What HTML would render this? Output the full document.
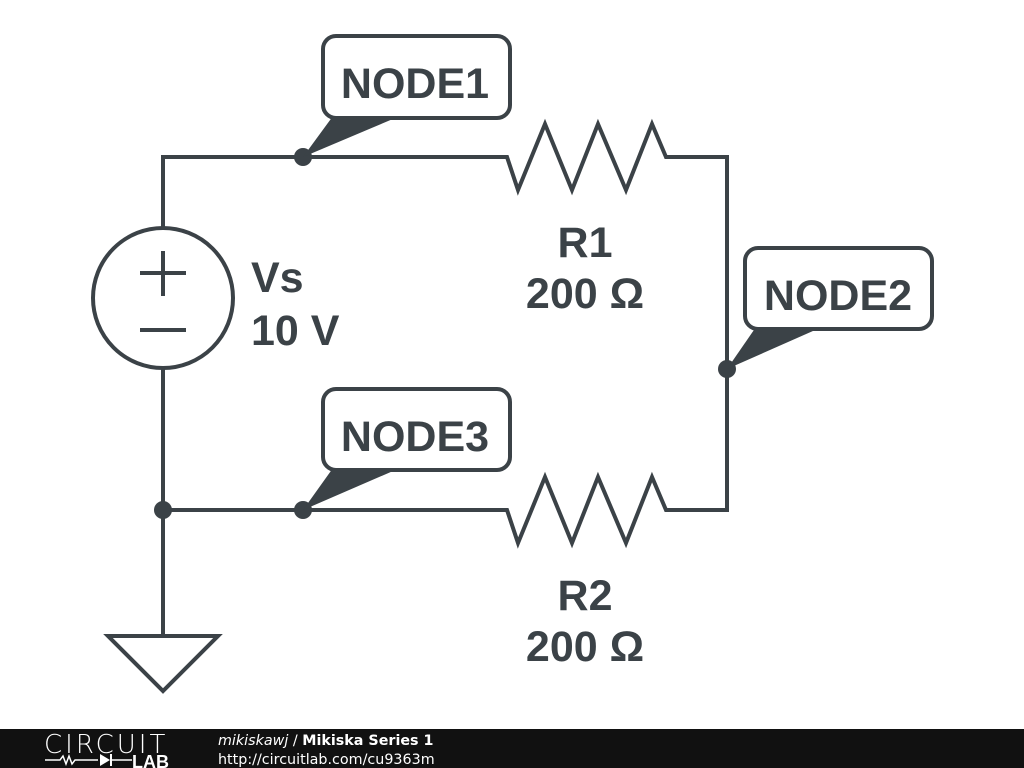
<!DOCTYPE html>
<html><head><meta charset="utf-8"><style>
html,body{margin:0;padding:0;background:#fff;}
svg{display:block}
text{font-family:"Liberation Sans",sans-serif;}
</style></head><body>
<svg width="1024" height="768" viewBox="0 0 1024 768" xmlns="http://www.w3.org/2000/svg">
<g stroke="#3b4247" stroke-width="4" fill="none" stroke-linejoin="miter">
<polyline points="163,228 163,157 507,157 518,190 545,124 572,190 598,124 626,190 652,124 666,157 727,157 727,510 666,510 652,477 626,543 598,477 572,543 545,477 518,543 507,510 163,510"/>
<line x1="163" y1="368" x2="163" y2="636"/>
<circle cx="163" cy="298" r="70"/>
<line x1="140" y1="273" x2="186" y2="273"/>
<line x1="163" y1="251" x2="163" y2="296"/>
<line x1="140" y1="330" x2="186" y2="330"/>
<polygon points="108,636 218,636 163,691"/>
<rect x="323" y="36" width="187" height="82" rx="13"/>
<rect x="745" y="248" width="187" height="81" rx="13"/>
<rect x="323" y="389" width="187" height="81" rx="13"/>
</g>
<g fill="#3b4247">
<circle cx="303" cy="157" r="9"/>
<circle cx="727" cy="369" r="9"/>
<circle cx="303" cy="510" r="9"/>
<circle cx="163" cy="510" r="9"/>
<polygon points="333,116 400,116 303,157"/>
<polygon points="756,327 822,327 727,369"/>
<polygon points="333,468 400,468 303,510"/>
<g font-weight="bold" font-size="43">
<text x="415" y="98" text-anchor="middle">NODE1</text>
<text x="838" y="310" text-anchor="middle">NODE2</text>
<text x="415" y="451" text-anchor="middle">NODE3</text>
<text x="251" y="292">Vs</text>
<text x="251" y="345">10 V</text>
<text x="585" y="257" text-anchor="middle">R1</text>
<text x="585" y="308" text-anchor="middle">200 Ω</text>
<text x="585" y="610" text-anchor="middle">R2</text>
<text x="585" y="661" text-anchor="middle">200 Ω</text>
</g>
</g>
<rect x="0" y="729" width="1024" height="39" fill="#111"/>
<text x="44" y="753" fill="#fff" font-size="26" letter-spacing="3" style="font-family:'DejaVu Sans',sans-serif;font-weight:200">CIRCUIT</text>
<polyline points="45,760 60,760 63,756 66,764 69,756 72,764 75,760 98,760" stroke="#fff" stroke-width="1.5" fill="none"/>
<polygon points="100,754 100,766 110,760" fill="#fff"/>
<line x1="111" y1="754" x2="111" y2="766" stroke="#fff" stroke-width="2"/>
<line x1="111" y1="760" x2="132" y2="760" stroke="#fff" stroke-width="1.5"/>
<text x="132" y="768" fill="#fff" font-size="18" font-weight="bold">LAB</text>
<text x="218" y="745" fill="#fff" font-size="14.3" style="font-family:'DejaVu Sans',sans-serif"><tspan font-style="italic">mikiskawj</tspan> / <tspan font-weight="bold">Mikiska Series 1</tspan></text>
<text x="218" y="764" fill="#fff" font-size="14.3" style="font-family:'DejaVu Sans',sans-serif">http://circuitlab.com/cu9363m</text>
</svg>
</body></html>
